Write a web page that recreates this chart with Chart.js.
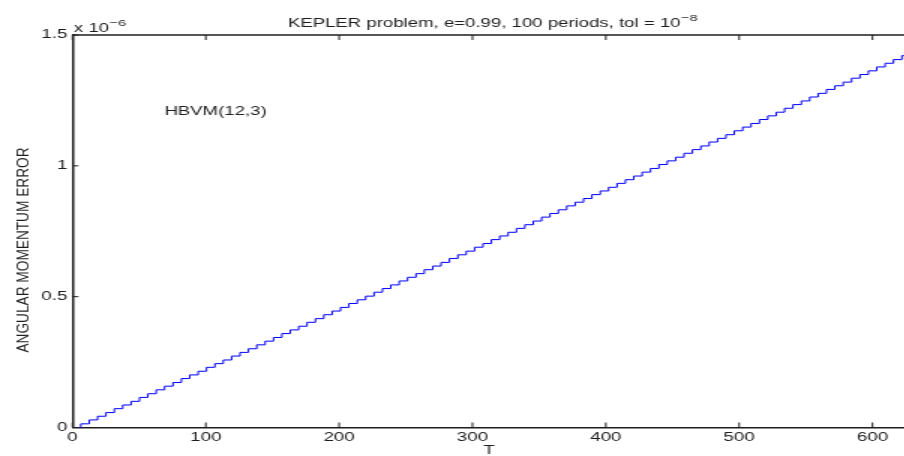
<!DOCTYPE html>
<html lang="en">
<head>
  <meta charset="UTF-8">
  <title>KEPLER problem | HBVM(12,3)</title>
  <script src="https://cdn.jsdelivr.net/npm/chart.js"></script>
  <style>
    html, body {
      margin: 0;
      padding: 0;
      background: #fff;
      overflow: hidden;
    }
    /* the reference is a MATLAB figure stretched sideways, so draw narrow and stretch */
    #wrap {
      width: 603px;
      height: 456px;
      transform: scaleX(1.5);
      transform-origin: 0 0;
    }
  </style>
</head>
<body>
  <div id="wrap"><canvas id="chartKepler" width="603" height="456"></canvas></div>
  <script>
    // time at the end of each period (T)
    const periodTimes = [
      0, 6.28, 12.57, 18.85, 25.13, 31.42, 37.70, 43.98, 50.27, 56.55,
      62.83, 69.12, 75.40, 81.68, 87.96, 94.25, 100.53, 106.81, 113.10, 119.38,
      125.66, 131.95, 138.23, 144.51, 150.80, 157.08, 163.36, 169.65, 175.93, 182.21,
      188.50, 194.78, 201.06, 207.35, 213.63, 219.91, 226.19, 232.48, 238.76, 245.04,
      251.33, 257.61, 263.89, 270.18, 276.46, 282.74, 289.03, 295.31, 301.59, 307.88,
      314.16, 320.44, 326.73, 333.01, 339.29, 345.58, 351.86, 358.14, 364.42, 370.71,
      376.99, 383.27, 389.56, 395.84, 402.12, 408.41, 414.69, 420.97, 427.26, 433.54,
      439.82, 446.11, 452.39, 458.67, 464.96, 471.24, 477.52, 483.81, 490.09, 496.37,
      502.65, 508.94, 515.22, 521.50, 527.79, 534.07, 540.35, 546.64, 552.92, 559.20,
      565.49, 571.77, 578.05, 584.34, 590.62, 596.90, 603.19, 609.47, 615.75, 622.04,
      628.32
    ];
    // angular momentum error after each period, in units of 1e-6
    const momentumError = [
      0, 0.014, 0.029, 0.043, 0.057, 0.072, 0.086, 0.100, 0.115, 0.129,
      0.144, 0.158, 0.172, 0.187, 0.201, 0.215, 0.230, 0.244, 0.258, 0.273,
      0.287, 0.301, 0.316, 0.330, 0.344, 0.359, 0.373, 0.387, 0.402, 0.416,
      0.431, 0.445, 0.459, 0.474, 0.488, 0.502, 0.517, 0.531, 0.545, 0.560,
      0.574, 0.588, 0.603, 0.617, 0.631, 0.646, 0.660, 0.674, 0.689, 0.703,
      0.718, 0.732, 0.746, 0.761, 0.775, 0.789, 0.804, 0.818, 0.832, 0.847,
      0.861, 0.875, 0.890, 0.904, 0.918, 0.933, 0.947, 0.961, 0.976, 0.990,
      1.005, 1.019, 1.033, 1.048, 1.062, 1.076, 1.091, 1.105, 1.119, 1.134,
      1.148, 1.162, 1.177, 1.191, 1.205, 1.220, 1.234, 1.248, 1.263, 1.277,
      1.292, 1.306, 1.320, 1.335, 1.349, 1.363, 1.378, 1.392, 1.406, 1.421,
      1.435
    ];
    const xTickValues = [0, 100, 200, 300, 400, 500, 600];
    const yTickValues = [0, 0.5, 1, 1.5];
    const yTickLabels = ['0', '0.5', '1', '1.5'];

    const FONT = '"Liberation Sans", Arial, Helvetica, sans-serif';
    const INK = '#1e1e1e';
    Chart.defaults.font.family = FONT;
    Chart.defaults.color = INK;

    // text with a superscript, e.g. 10^-8
    function drawSup(ctx, base, sup, x, y, align, size) {
      const supSize = size * 0.78;
      ctx.font = size + 'px ' + FONT;
      const wb = ctx.measureText(base).width;
      ctx.font = supSize + 'px ' + FONT;
      const ws = ctx.measureText(sup).width;
      let x0 = align === 'center' ? x - (wb + ws) / 2 : x;
      ctx.textAlign = 'left';
      ctx.textBaseline = 'alphabetic';
      ctx.font = size + 'px ' + FONT;
      ctx.fillText(base, x0, y);
      ctx.font = supSize + 'px ' + FONT;
      ctx.fillText(sup, x0 + wb + 0.4, y - size * 0.5);
    }

    const matlabFrame = {
      id: 'matlabFrame',
      afterDraw(chart) {
        const { ctx, chartArea: a, scales: { x, y } } = chart;
        ctx.save();
        ctx.strokeStyle = INK;
        ctx.lineWidth = 1.5;
        ctx.beginPath();
        ctx.moveTo(a.left, a.top);
        ctx.lineTo(a.right, a.top);
        ctx.stroke();

        // inward ticks, MATLAB style
        ctx.lineWidth = 1;
        ctx.beginPath();
        xTickValues.forEach(v => {
          const px = x.getPixelForValue(v);
          ctx.moveTo(px, a.bottom);
          ctx.lineTo(px, a.bottom - 5);
          ctx.moveTo(px, a.top);
          ctx.lineTo(px, a.top + 5);
        });
        yTickValues.forEach(v => {
          const py = y.getPixelForValue(v);
          ctx.moveTo(a.left, py);
          ctx.lineTo(a.left + 4, py);
        });
        ctx.stroke();

        ctx.fillStyle = INK;
        // title
        drawSup(ctx, 'KEPLER problem, e=0.99, 100 periods, tol = 10', '\u22128', 328.3, 27.3, 'center', 12.4);
        // exponent of the y axis
        drawSup(ctx, 'x 10', '\u22126', a.left + 1, 32, 'left', 12.4);

        // x axis title
        ctx.font = '12.4px ' + FONT;
        ctx.textAlign = 'center';
        ctx.textBaseline = 'alphabetic';
        ctx.fillText('T', (a.left + a.right) / 2 + 0.5, 454);

        // method label inside the axes
        ctx.textAlign = 'left';
        ctx.fillText('HBVM(12,3)', x.getPixelForValue(69), y.getPixelForValue(1.195));

        // y axis title (rotated, condensed)
        const label = 'ANGULAR MOMENTUM ERROR';
        ctx.font = '10.4px ' + FONT;
        const w = ctx.measureText(label).width;
        ctx.translate(16, 250);
        ctx.rotate(-Math.PI / 2);
        ctx.scale(205 / w, 1);
        ctx.textAlign = 'center';
        ctx.textBaseline = 'middle';
        ctx.fillText(label, 0, 0);
        ctx.restore();
      }
    };

    const points = periodTimes.map((t, i) => ({ x: t, y: momentumError[i] }));

    new Chart(document.getElementById('chartKepler'), {
      type: 'line',
      data: {
        datasets: [{
          label: 'HBVM(12,3)',
          data: points,
          borderColor: '#0000ff',
          borderWidth: 1,
          pointRadius: 0,
          stepped: true,
          fill: false
        }]
      },
      options: {
        responsive: false,
        animation: false,
        layout: { padding: { top: 35, left: 0, right: 0, bottom: 0 } },
        plugins: {
          legend: { display: false },
          tooltip: { enabled: false }
        },
        scales: {
          x: {
            type: 'linear',
            min: 0,
            max: 624,
            afterFit: s => { s.height = 28.5; },
            afterBuildTicks: s => { s.ticks = xTickValues.map(v => ({ value: v })); },
            grid: { display: false, drawTicks: false },
            border: { display: true, color: INK, width: 1.5 },
            ticks: { font: { size: 12.5 }, color: INK, padding: 3, maxRotation: 0, autoSkip: false }
          },
          y: {
            min: 0,
            max: 1.5,
            afterFit: s => { s.width = 48.3; },
            afterBuildTicks: s => { s.ticks = yTickValues.map(v => ({ value: v })); },
            grid: { display: false, drawTicks: false },
            border: { display: true, color: INK, width: 1.5 },
            ticks: {
              font: { size: 12.5 },
              color: INK,
              padding: 3.3,
              autoSkip: false,
              callback: v => yTickLabels[yTickValues.indexOf(v)]
            }
          }
        }
      },
      plugins: [matlabFrame]
    });
  </script>
</body>
</html>
